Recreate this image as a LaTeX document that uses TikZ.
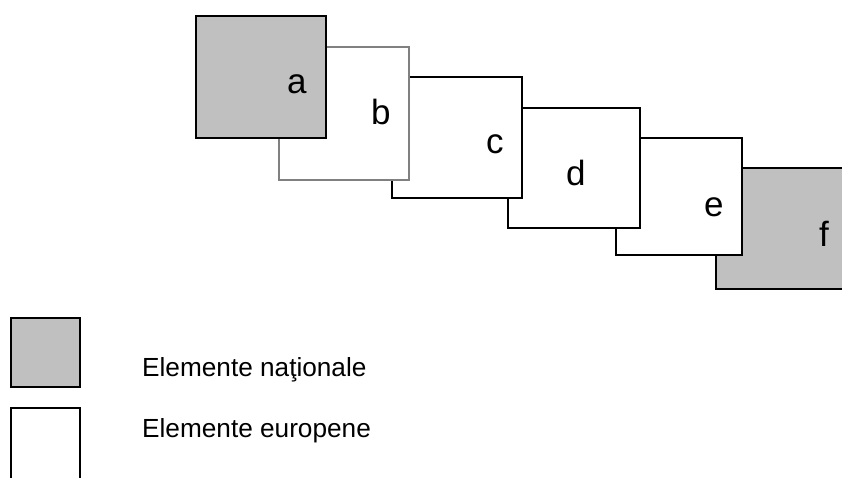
\documentclass[tikz,border=0pt]{standalone}
\usepackage{fontspec}
\setmainfont{Liberation Sans}
\usepackage{xcolor}
\usepackage{tikz}
\definecolor{natgray}{RGB}{192,192,192}
\definecolor{edgegray}{RGB}{128,128,128}

\begin{document}
\begin{tikzpicture}[
    x=1pt, y=-1pt,
    box/.style={rectangle, draw, line width=1.6pt, inner sep=0pt, outer sep=0pt, anchor=north west},
    national/.style={box, fill=natgray},
    european/.style={box, fill=white},
    letter/.style={inner sep=0pt, anchor=base west, font=\fontsize{35}{40}\selectfont},
    legend/.style={inner sep=0pt, anchor=base west, font=\fontsize{26.2}{31}\selectfont}
]
    \useasboundingbox (0,0) rectangle (842,478);

    % Nodes (back to front)
    \node[national, minimum width=140pt, minimum height=121pt] (f) at (716,168) {};
    \node[european, minimum width=126pt, minimum height=117pt] (e) at (616,138) {};
    \node[european, minimum width=132pt, minimum height=120pt] (d) at (508,108) {};
    \node[european, minimum width=130pt, minimum height=121pt] (c) at (392,77) {};
    \node[european, draw=edgegray, line width=2pt, minimum width=130pt, minimum height=133pt] (b) at (279,47) {};
    \node[national, minimum width=130pt, minimum height=122pt] (a) at (196,16) {};

    % Labels
    \node[letter] (la) at (287,94) {a};
    \node[letter] (lb) at (371,125) {b};
    \node[letter] (lc) at (486,154) {c};
    \node[letter] (ld) at (566,186) {d};
    \node[letter] (le) at (704,216) {e};
    \node[letter] (lf) at (819,246) {f};

    % Legend
    \node[national, minimum width=69pt, minimum height=69pt] (keynat) at (11,318) {};
    \node[european, minimum width=69pt, minimum height=80pt] (keyeur) at (11,408) {};
    \node[legend] (txtnat) at (142,376) {Elemente naţionale};
    \node[legend] (txteur) at (142,437) {Elemente europene};
\end{tikzpicture}
\end{document}
